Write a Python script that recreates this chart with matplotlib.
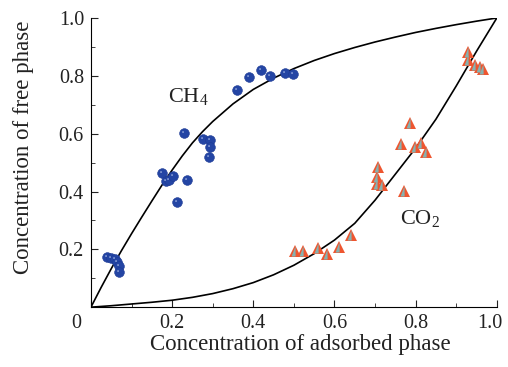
import numpy as np
import matplotlib
matplotlib.use('Agg')
import matplotlib.pyplot as plt
from matplotlib.path import Path
from matplotlib.markers import MarkerStyle

plt.rcParams['font.family'] = ['Liberation Serif', 'DejaVu Serif']
plt.rcParams['mathtext.fontset'] = 'custom'
plt.rcParams['mathtext.rm'] = 'Liberation Serif'
plt.rcParams['mathtext.it'] = 'Liberation Serif:italic'

# CH4 measurements (adsorbed phase, free phase)
ch4_x = [0.04, 0.05, 0.06, 0.065, 0.07, 0.07,
         0.174, 0.186, 0.193, 0.203, 0.213, 0.236,
         0.229, 0.277, 0.293, 0.293, 0.291,
         0.36, 0.389, 0.418, 0.441, 0.478, 0.498]
ch4_y = [0.175, 0.17, 0.165, 0.155, 0.143, 0.12,
         0.463, 0.435, 0.44, 0.452, 0.364, 0.44,
         0.603, 0.58, 0.578, 0.553, 0.518,
         0.751, 0.795, 0.82, 0.80, 0.809, 0.806]

# CO2 measurements
co2_x = [0.502, 0.523, 0.56, 0.582, 0.612, 0.64,
         0.708, 0.706, 0.705, 0.716, 0.771,
         0.764, 0.787, 0.798, 0.812, 0.825,
         0.929, 0.929, 0.946, 0.958, 0.966]
co2_y = [0.195, 0.195, 0.206, 0.183, 0.209, 0.249,
         0.483, 0.451, 0.426, 0.422, 0.403,
         0.564, 0.636, 0.553, 0.566, 0.537,
         0.883, 0.855, 0.837, 0.829, 0.822]

# equilibrium curves
ch4_curve_x = [0, 0.025, 0.05, 0.075, 0.1, 0.125, 0.15, 0.175, 0.2, 0.225, 0.25,
               0.275, 0.3, 0.35, 0.4, 0.45, 0.5, 0.55, 0.6, 0.65, 0.7, 0.75,
               0.8, 0.85, 0.9, 0.95, 1.0]
ch4_curve_y = [0, 0.068, 0.133, 0.195, 0.254, 0.311, 0.367, 0.422, 0.474, 0.523, 0.568,
               0.607, 0.642, 0.703, 0.753, 0.792, 0.825, 0.853, 0.877, 0.898, 0.917, 0.934,
               0.950, 0.964, 0.977, 0.989, 1.0]
co2_curve_x = [0, 0.05, 0.1, 0.15, 0.2, 0.25, 0.3, 0.35, 0.4, 0.45, 0.5, 0.55,
               0.6, 0.65, 0.7, 0.75, 0.8, 0.85, 0.9, 0.95, 1.0]
co2_curve_y = [0, 0.005, 0.011, 0.017, 0.024, 0.034, 0.047, 0.064, 0.085, 0.112, 0.145, 0.185,
               0.232, 0.29, 0.37, 0.46, 0.55, 0.65, 0.765, 0.885, 1.0]

x_ticks = [0.2, 0.4, 0.6, 0.8]
y_ticks = [0.2, 0.4, 0.6, 0.8, 1.0]

# marker decorations: highlight on spheres, shaded face on pyramids
pad = [(-1, -1), (1, 1)]
hl = Path.circle(center=(-0.3, 0.3), radius=0.16)
hl_marker = MarkerStyle(Path(np.vstack([hl.vertices, pad]),
                             list(hl.codes) + [Path.MOVETO, Path.MOVETO]))
face = Path([(0, 0.85), (-0.62, -0.8), (0.02, -0.8), (0, 0.85), (-1, -1), (1, 1)],
            [Path.MOVETO, Path.LINETO, Path.LINETO, Path.CLOSEPOLY, Path.MOVETO, Path.MOVETO])
face_marker = MarkerStyle(face)

txt = '#222222'

fig = plt.figure(figsize=(5.08, 3.67), dpi=100)
ax = fig.add_axes([0.179, 0.163, 0.799, 0.788])

ax.plot(ch4_curve_x, ch4_curve_y, color='black', lw=1.2, zorder=2)
ax.plot(co2_curve_x, co2_curve_y, color='black', lw=1.2, zorder=2)

ax.plot(ch4_x, ch4_y, 'o', ms=7, color='#2445a4', mec='#1d3a94', mew=0.4, zorder=3)
ax.plot(ch4_x, ch4_y, ls='none', marker=hl_marker, ms=7, color='#b8c8ee', mew=0, zorder=4)

ax.plot(co2_x, co2_y, '^', ms=9, color='#ee5630', mew=0, zorder=3)
ax.plot(co2_x, co2_y, ls='none', marker=face_marker, ms=9, color='#86b2b0', mew=0, zorder=4)

ax.text(0.24, 0.73, r'CH$_4$', fontsize=16, ha='center', va='center', color=txt)
ax.text(0.81, 0.305, r'CO$_2$', fontsize=16, ha='center', va='center', color=txt)

ax.set_xlim(0, 1)
ax.set_ylim(0, 1)
ax.spines['top'].set_visible(False)
ax.spines['right'].set_visible(False)
ax.set_xticks([0] + x_ticks + [1.0])
ax.set_xticklabels([''] + ['%.1f' % v for v in x_ticks] + [''])
ax.set_yticks(y_ticks)
ax.set_yticklabels(['%.1f' % v for v in y_ticks])
ax.set_xticks(np.arange(0.1, 1.0, 0.2), minor=True)
ax.set_yticks(np.arange(0.1, 1.0, 0.2), minor=True)
ax.tick_params(which='both', direction='in', labelsize=14.5, colors=txt)
ax.tick_params(which='major', length=5, pad=5)
ax.tick_params(which='minor', length=3)

# origin and end labels sit off their ticks
ax.text(-0.035, -0.024, '0', transform=ax.transAxes, ha='center', va='top',
        fontsize=14.5, color=txt)
ax.text(0.982, -0.024, '1.0', transform=ax.transAxes, ha='center', va='top',
        fontsize=14.5, color=txt)

ax.set_xlabel('Concentration of adsorbed phase', fontsize=16.5, color=txt)
ax.xaxis.set_label_coords(0.517, -0.092)
ax.set_ylabel('Concentration of free phase', fontsize=16.5, color=txt)
ax.yaxis.set_label_coords(-0.14, 0.552)

fig.savefig('out.png', dpi=100)
